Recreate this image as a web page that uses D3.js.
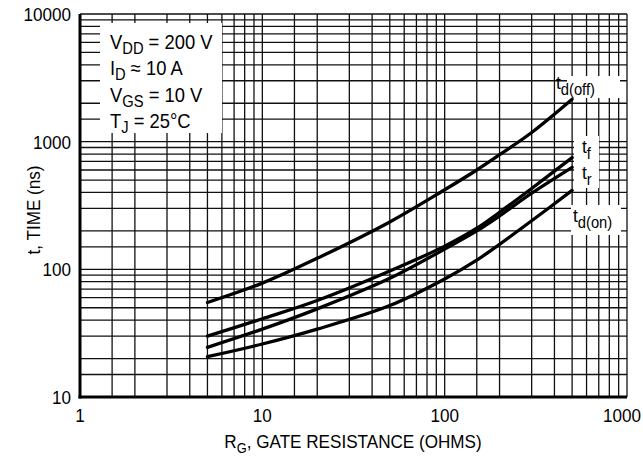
<!DOCTYPE html>
<html><head><meta charset="utf-8">
<script src="https://cdn.jsdelivr.net/npm/d3@7"></script>
<style>html,body{margin:0;padding:0;background:#fff;}svg{display:block;font-family:"Liberation Sans",Arial,sans-serif;}</style>
</head><body>
<script>
// ---- data ----
const rg = [5, 10, 20, 50, 100, 150, 200, 300, 500];
const tdOff = [55, 78, 122, 235, 420, 600, 790, 1180, 2150];
const tf = [30, 41, 57, 97, 152, 210, 280, 430, 750];
const tr = [24.5, 34, 49, 85, 144, 200, 262, 395, 630];
const tdOn = [20.7, 26, 34, 52, 84, 118, 157, 240, 415];
const xTicks = [1, 10, 100, 1000];
const yTicks = [10, 100, 1000, 10000];
const gridMult = [1, 1.5, 2, 3, 4, 5, 6, 7, 8, 9];
const conditions = [["V", "DD", " = 200 V"], ["I", "D", " \u2248 10 A"], ["V", "GS", " = 10 V"], ["T", "J", " = 25\u00B0C"]];
const curveLabels = [["t", "d(off)"], ["t", "f"], ["t", "r"], ["t", "d(on)"]];

const W = 643, H = 457;
const x = d3.scaleLog().domain([1, 1000]).range([80, 627]);
const y = d3.scaleLog().domain([10, 10000]).range([397, 14]);
const svg = d3.select("body").append("svg").attr("width", W).attr("height", H);
const SX = 0.92;

function decadeGrid(lo, hi) {
  const out = [];
  for (let d = lo; d < hi; d *= 10) gridMult.forEach(m => out.push(d * m));
  out.push(hi);
  return out;
}
const g = svg.append("g");
g.selectAll("line.vx").data(decadeGrid(1, 1000)).join("line")
  .attr("x1", d => x(d)).attr("x2", d => x(d)).attr("y1", y(10000)).attr("y2", y(10))
  .attr("stroke", "#111").attr("stroke-width", 1.3);
g.selectAll("line.hy").data(decadeGrid(10, 10000)).join("line")
  .attr("y1", d => y(d)).attr("y2", d => y(d)).attr("x1", x(1)).attr("x2", x(1000))
  .attr("stroke", "#111").attr("stroke-width", 1.3);

// axes thick lines
svg.append("line").attr("x1", x(1)).attr("x2", x(1)).attr("y1", y(10000)).attr("y2", y(10) + 1.5).attr("stroke", "#000").attr("stroke-width", 3);
svg.append("line").attr("x1", x(1) - 1.5).attr("x2", x(1000)).attr("y1", y(10)).attr("y2", y(10)).attr("stroke", "#000").attr("stroke-width", 3);

// condition box
svg.append("rect").attr("x", 100).attr("y", 23).attr("width", 122).attr("height", 110).attr("fill", "#fff");
conditions.forEach((c, i) => {
  const t = svg.append("text").attr("transform", `translate(110,${48.5 + i * 26.5}) scale(${SX},1)`)
    .attr("font-size", 20).attr("fill", "#000");
  t.append("tspan").text(c[0]);
  t.append("tspan").attr("font-size", 16).attr("dy", 5).text(c[1]);
  t.append("tspan").attr("dy", -5).text(c[2]);
});

// label backgrounds
const bg = [[567, 76, 53, 22], [574, 136, 25, 52], [571, 205, 50, 30]];
svg.selectAll("rect.bg").data(bg).join("rect").attr("x", d => d[0]).attr("y", d => d[1])
  .attr("width", d => d[2]).attr("height", d => d[3]).attr("fill", "#fff");

// curves
const series = [tdOff, tf, tr, tdOn];
const line = d3.line().x(d => x(d[0])).y(d => y(d[1])).curve(d3.curveCatmullRom.alpha(0.5));
svg.selectAll("path.c").data(series).join("path")
  .attr("d", s => line(rg.map((r, i) => [r, s[i]])))
  .attr("fill", "none").attr("stroke", "#000").attr("stroke-width", 3.3).attr("stroke-linecap", "round");

// curve labels
const labelPos = [[556, 89], [582, 153], [582, 179], [573, 222]];
curveLabels.forEach((c, i) => {
  const t = svg.append("text").attr("transform", `translate(${labelPos[i][0]},${labelPos[i][1]}) scale(${SX},1)`)
    .attr("font-size", 19).attr("fill", "#000");
  t.append("tspan").text(c[0]);
  t.append("tspan").attr("font-size", 16).attr("dy", 6).text(c[1]);
});

// tick labels
xTicks.forEach((v, i) => {
  const last = i === xTicks.length - 1;
  svg.append("text").attr("transform", `translate(${last ? 641 : x(v)},421.5) scale(${SX},1)`)
    .attr("text-anchor", last ? "end" : "middle").attr("font-size", 18.6).text(d3.format("d")(v));
});
yTicks.forEach(v => {
  svg.append("text").attr("transform", `translate(71,${y(v) + 7}) scale(${SX},1)`)
    .attr("text-anchor", "end").attr("font-size", 18.6).text(d3.format("d")(v));
});

// axis titles
const xt = svg.append("text").attr("transform", `translate(353,448) scale(${SX},1)`)
  .attr("text-anchor", "middle").attr("font-size", 18.6);
xt.append("tspan").text("R");
xt.append("tspan").attr("font-size", 14).attr("dy", 5).text("G");
xt.append("tspan").attr("dy", -5).text(", GATE RESISTANCE (OHMS)");

svg.append("text").attr("transform", `translate(40,210) rotate(-90) scale(${SX},1)`)
  .attr("text-anchor", "middle").attr("font-size", 18.6).text("t, TIME (ns)");
</script>
</body></html>
